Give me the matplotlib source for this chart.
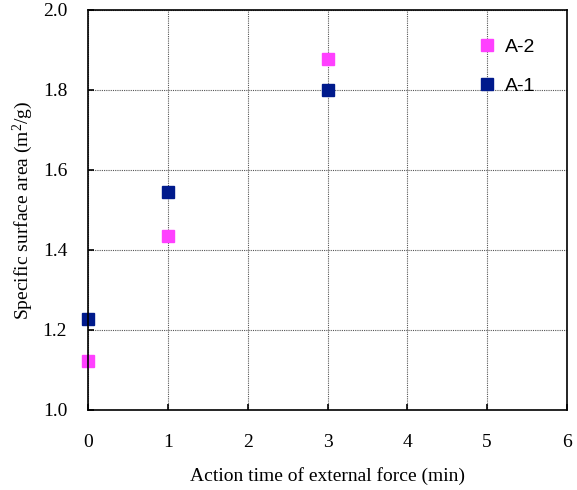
import numpy as np
import matplotlib.pyplot as plt

# data
time_min = [0, 1, 3]
a1_area = [1.227, 1.545, 1.800]
a2_area = [1.122, 1.436, 1.878]

x_ticks = [0, 1, 2, 3, 4, 5, 6]
y_ticks = [1.0, 1.2, 1.4, 1.6, 1.8, 2.0]

plt.rcParams['font.family'] = ['Liberation Serif', 'DejaVu Serif']
plt.rcParams['mathtext.fontset'] = 'custom'
plt.rcParams['mathtext.rm'] = 'Liberation Serif'
plt.rcParams['mathtext.it'] = 'Liberation Serif'

fig = plt.figure(figsize=(5.77, 4.90), dpi=100)
ax = fig.add_axes([0.1525, 0.1633, 0.8302, 0.8163])

ax.plot(time_min, a2_area, 's', color='#ff40ff', markersize=8, label='A-2', clip_on=False)
ax.plot(time_min, a1_area, 's', color='#001a8c', markersize=8, label='A-1', clip_on=False)

ax.set_xlim(0, 6)
ax.set_ylim(1.0, 2.0)
ax.set_xticks(x_ticks)
ax.set_yticks(y_ticks)
ax.set_yticklabels([f'{v:.1f}' for v in y_ticks])
ax.grid(True, color='#555555', linestyle=(0, (1, 1)), linewidth=0.8)
ax.tick_params(direction='in', length=4, width=1.2, labelsize=14)
ax.tick_params(axis='x', pad=17)
ax.tick_params(axis='y', pad=15)
for s in ax.spines.values():
    s.set_linewidth(1.2)

ax.set_xlabel('Action time of external force (min)', fontsize=14, labelpad=12)
ax.set_ylabel('Specific surface area (m$^{2}$/g)', fontsize=14, labelpad=5.5)

leg = ax.legend(loc='upper left', bbox_to_anchor=(0.80, 0.948), frameon=False,
                prop={'family': 'Liberation Sans', 'size': 14},
                handletextpad=0.55, labelspacing=1.08, handlelength=0.8,
                borderaxespad=0)

fig.savefig('out.png', dpi=100)
